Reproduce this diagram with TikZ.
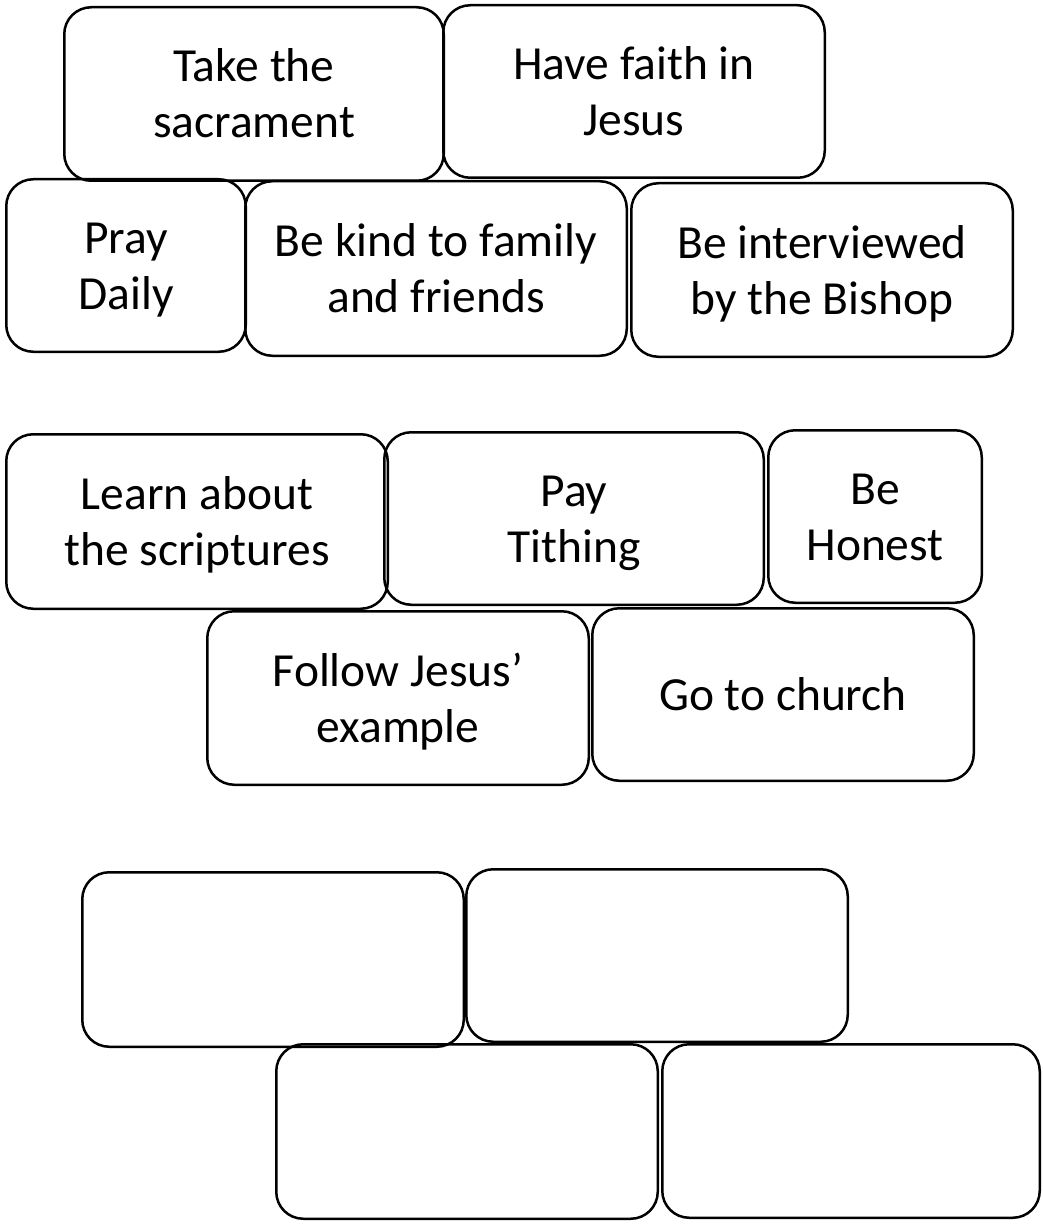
\documentclass[tikz,border=0pt]{standalone}
\usepackage{fontspec}
\setmainfont{Carlito}
\usetikzlibrary{positioning}
\newcommand{\cardtop}{\rule{0pt}{40pt}}
\newcommand{\cardbot}{\rule[-8pt]{0pt}{8pt}}

\begin{document}
\begin{tikzpicture}[x=1pt,y=-1pt]
\tikzset{card/.style 2 args={draw, line width=2.5pt, rounded corners=27pt, inner sep=0pt,
    minimum width=#1-2.5pt, minimum height=#2-2.5pt, align=center,
    font=\fontsize{47.5}{56}\selectfont}}
\useasboundingbox (0,0) rectangle (1043,1225);
% first group
\node[card={382pt}{176pt}] (sacrament) at (254,94) {\cardtop Take the\\sacrament\cardbot};
\node[card={384pt}{175pt}] (faith) at (634,91.5) {\cardtop Have faith in\\Jesus\cardbot};
\node[card={242pt}{175pt}] (pray) at (126,265.5) {\cardtop Pray\\Daily\cardbot};
\node[card={384pt}{177pt}] (kind) at (436,268.5) {\cardtop Be kind to family\\and friends\cardbot};
\node[card={384pt}{176pt}] (bishop) at (822,270) {\cardtop Be interviewed\\by the Bishop\cardbot};
% second group
\node[card={384pt}{177pt}] (scriptures) at (197,521.5) {\cardtop Learn about\\the scriptures\cardbot};
\node[card={382pt}{175pt}] (tithing) at (574,518.5) {\cardtop Pay\\Tithing\cardbot};
\node[card={216pt}{175pt}] (honest) at (875,516.5) {\cardtop Be\\Honest\cardbot};
\node[card={384pt}{176pt}] (example) at (398,698) {\cardtop Follow Jesus’\\example\cardbot};
\node[card={384pt}{175pt}] (church) at (783,694.5) {\cardtop Go to church\cardbot};
% empty ones
\node[card={384pt}{177pt}] (blankA) at (273,959.5) {};
\node[card={384pt}{175pt}] (blankB) at (657,955.5) {};
\node[card={384pt}{177pt}] (blankC) at (467,1131.5) {};
\node[card={380pt}{176pt}] (blankD) at (851,1131) {};
\end{tikzpicture}
\end{document}
